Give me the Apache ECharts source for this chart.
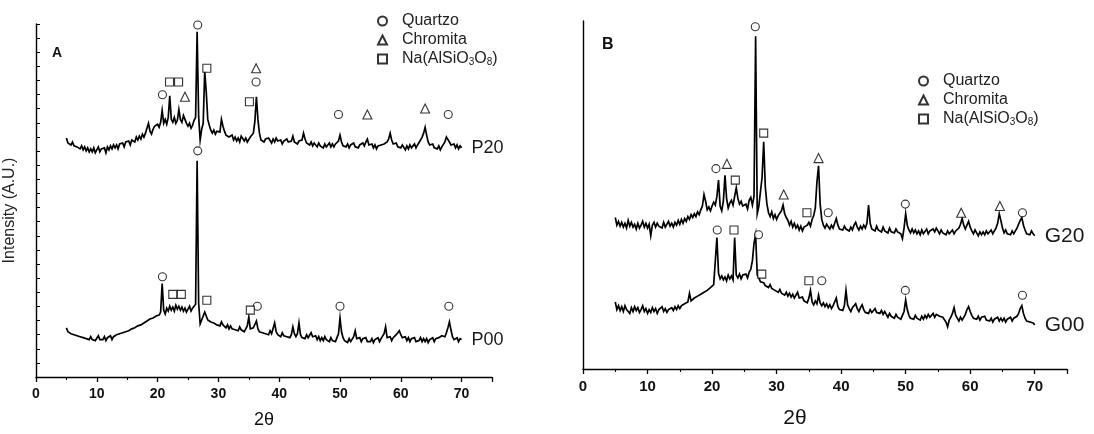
<!DOCTYPE html>
<html><head><meta charset="utf-8">
<script src="https://cdn.jsdelivr.net/npm/echarts@6/dist/echarts.min.js"></script>
<style>html,body{margin:0;padding:0;background:#fff}#c{width:1094px;height:434px}</style>
</head><body><div id="c"></div><script>
// 2θ measurement grid: first angle and step (degrees)
const twoThetaStart = 5;
const twoThetaStep = 0.25;

// Panel A traces (arbitrary intensity units, offset stacked)
const p20 = [
243,238,240,236, 239,235,237,234, 236,232,235,231, 234,230,233,229, 232,229,233,228,
231,234,229,232, 230,233,228,234, 231,235,232,236, 233,236,232,237, 235,238,234,239,
237,240,236,241, 243,239,244,241, 245,242,247,244, 248,246,258,250, 247,252,255,253,
257,254,259,271, 258,262,257,264, 286,262,259,264, 258,261,272,262, 259,266,262,258,
255,258,253,256, 261,264,351,265, 241,252,258,311, 290,262,256,251, 248,251,247,250,
252,249,262,255, 250,246,248,244, 243,246,241,244, 240,243,239,245, 246,240,243,239,
241,244,242,248, 260,285,262,248, 241,243,239,242, 240,243,241,238, 242,239,243,240,
238,241,237,240, 238,242,239,241, 240,245,239,238, 237,240,238,241, 248,242,238,240,
236,239,235,238, 237,234,238,235, 236,233,237,234, 235,238,234,237, 234,237,235,240,
246,239,235,237, 234,237,233,236, 235,238,234,236, 233,236,234,238, 235,239,242,236,
234,237,233,236, 232,235,233,236, 234,237,235,239, 242,248,241,237, 235,238,234,236,
233,236,234,231, 235,232,236,233, 234,237,233,236, 238,241,244,248, 254,246,239,236,
234,237,233,235, 232,235,231,234, 236,239,244,242, 239,236,234,237, 233,236,232,235,
233];
const p00 = [
50,46,48,44, 46,43,45,42, 44,41,43,40, 42,39,41,38, 41,38,40,37,
39,42,38,40, 38,41,37,40, 39,42,38,41, 40,43,41,44, 42,45,43,46,
44,47,45,49, 47,50,48,52, 50,53,51,55, 54,57,55,59, 57,60,58,62,
60,63,66,95, 68,64,70,67, 72,68,71,67, 73,69,72,68, 71,67,70,66,
69,72,67,70, 68,74,220,75, 54,58,60,66, 62,58,60,56, 58,55,57,53,
55,52,56,53, 54,50,53,49, 52,49,51,48, 50,47,51,48, 50,46,49,52,
61,49,47,50, 48,57,49,46, 48,45,47,44, 46,43,47,44, 46,55,46,43,
44,41,45,42, 44,41,43,40, 43,51,44,41, 44,55,43,40, 42,39,43,40,
42,45,41,39, 42,38,41,37, 40,37,41,38, 39,36,40,37, 39,36,40,44,
60,46,40,37, 38,35,39,36, 38,41,47,39, 37,40,36,39, 37,40,36,38,
36,39,35,38, 37,40,36,39, 38,44,51,40, 38,41,37,40, 39,43,45,47,
43,40,38,41, 37,40,36,39, 37,40,36,38, 37,40,36,39, 36,39,35,38,
37,40,36,39, 37,40,38,42, 44,41,45,50, 56,48,41,38, 37,40,36,39,
38];

// Panel B traces
const g20 = [
158,150,154,149, 153,148,152,147, 155,149,153,148, 151,146,152,147, 150,154,148,152,
147,151,139,150, 153,148,152,149, 151,147,153,148, 150,154,149,152, 148,153,150,155,
151,156,152,157, 154,159,156,161, 158,162,159,164, 161,166,170,182, 175,166,169,165,
170,174,171,180, 197,170,165,175, 202,178,168,173, 176,171,180,189, 178,172,175,170,
168,172,167,176, 179,171,180,347, 162,170,185,200, 237,190,172,163, 159,164,157,161,
156,160,158,165, 171,162,158,155, 150,154,148,152, 147,150,145,149, 144,148,146,150,
153,149,156,160, 168,195,212,172, 156,150,147,151, 149,146,150,147, 152,157,150,146,
148,145,149,146, 147,144,148,145, 150,153,148,145, 149,146,150,147, 152,171,152,146,
148,144,149,145, 147,143,148,144, 146,142,147,143, 145,142,146,143, 145,141,136,147,
162,150,145,142, 146,142,145,141, 144,140,145,141, 143,146,141,144, 142,146,143,147,
144,141,145,142, 143,140,144,141, 142,145,141,144, 143,147,151,157, 150,146,150,154,
148,144,141,145, 142,139,143,140, 143,140,144,141, 142,145,141,144, 147,152,162,155,
147,142,145,141, 143,140,144,141, 144,147,151,155, 158,150,145,141, 143,140,144,141,
139];
const g00 = [
70,62,66,61, 65,60,66,62, 63,58,64,60, 65,61,64,59, 62,66,60,63,
58,62,59,64, 60,63,58,62, 61,65,60,63, 59,62,60,64, 61,65,62,66,
63,66,64,68, 66,70,79,71, 70,74,72,76, 74,78,76,80, 78,82,80,85,
84,88,90,137, 100,94,97,93, 96,92,98,94, 97,93,137,98, 95,99,94,98,
96,99,95,101, 104,113,131,140, 98,95,91,93, 90,87,89,85, 88,84,86,82,
84,80,83,79, 81,77,80,76, 79,75,78,74, 77,80,74,72, 75,71,73,69,
74,82,70,67, 71,68,77,69, 66,69,65,68, 64,67,63,66, 65,74,65,62,
64,61,66,82, 67,63,60,64, 62,68,63,60, 64,67,62,59, 61,58,62,59,
60,63,59,61, 58,61,57,60, 57,54,58,55, 56,53,57,54, 55,52,56,60,
72,62,56,53, 55,52,56,53, 54,51,55,52, 56,53,57,54, 55,58,54,57,
58,55,57,54, 52,49,44,51, 54,58,64,56, 53,50,54,51, 53,57,62,65,
60,56,53,55, 52,55,51,54, 52,55,51,53, 50,53,49,52, 51,54,50,53,
50,53,49,52, 51,54,50,53, 52,55,58,63, 66,58,53,50, 52,49,51,48,
46];

// Phase markers [2θ, height]
const quartzoA  = [[20.8,287],[26.6,358],[36.2,300],[49.75,267],[67.8,267],[26.6,230],[20.8,102],[36.4,72],[50.0,72],[67.9,72]];
const chromitaA = [[24.5,285],[36.2,314],[54.5,267],[64.0,273]];
const albitaA   = [[21.96,300],[23.45,300],[28.1,314],[35.1,280],[22.5,84],[23.9,84],[28.1,78],[35.25,68]];
const quartzoB  = [[26.7,357],[20.6,209],[38.0,163],[49.95,172],[68.1,163],[20.8,145],[27.2,140],[37.0,92],[49.95,82],[68.1,77]];
const chromitaB = [[22.3,214],[31.1,182],[36.5,220],[58.6,163],[64.6,170]];
const albitaB   = [[28.0,246],[23.6,197],[34.7,163],[23.4,145],[27.7,99],[35.0,92]];

const phaseNames = ['Quartzo','Chromita','Na(AlSiO3O8)'];
const traceNames = ['P20','P00','G20','G00'];
const xTickLabels = [0,10,20,30,40,50,60,70];

const FONT = '"Liberation Sans", Arial, sans-serif';
const toXY = arr => arr.map((v,i) => [twoThetaStart + i*twoThetaStep, v]);

function trace(name, data, idx, fs, fw) {
  return {
    name, type:'line', xAxisIndex:idx, yAxisIndex:idx, data: toXY(data),
    showSymbol:false, symbol:'none', sampling:null, silent:true,
    lineStyle:{color:'#000', width:1.7, join:'miter'}, z:2,
    endLabel:{show:true, formatter:name, distance:10, fontFamily:FONT, fontSize:fs, fontWeight:fw, color:'#1a1a1a'}
  };
}
function marks(name, data, idx, sym) {
  return {
    name, type:'scatter', xAxisIndex:idx, yAxisIndex:idx, data, symbol:sym,
    symbolSize: sym==='triangle'?9:8, z:5, silent:true,
    itemStyle:{color:'#fff', borderColor:'#000', borderWidth:1.1}
  };
}
function xAxis(idx, fs, nameGap, nameFs, pad) {
  return {
    gridIndex:idx, type:'value', min:0, max:75, interval:10,
    axisLine:{show:true, lineStyle:{color:'#000', width:1.4}},
    axisTick:{show:true, length:5, lineStyle:{color:'#000', width:1.3}},
    minorTick:{show:true, splitNumber:2, length:3, lineStyle:{color:'#000', width:1.1}},
    splitLine:{show:false},
    axisLabel:{fontFamily:FONT, fontSize:fs, fontWeight:'bold', color:'#111', margin:10, showMaxLabel:false,
      formatter: v => xTickLabels.includes(v) ? String(v) : ''},
    name:'2θ', nameLocation:'middle', nameGap, nameTextStyle:{fontFamily:FONT, fontSize:nameFs, color:'#111', padding:pad}
  };
}
const legendRich = {s:{fontSize:10, fontFamily:FONT, color:'#222', verticalAlign:'bottom', padding:[7,0,0,0]}};
function legend(left, top) {
  return {
    data: phaseNames, orient:'vertical', left, top, itemGap:3, itemWidth:9, itemHeight:9,
    selectedMode:false,
    textStyle:{fontFamily:FONT, fontSize:16, color:'#222', padding:[0,0,0,10], rich:legendRich},
    formatter: n => n === 'Na(AlSiO3O8)' ? 'Na(AlSiO{s|3}O{s|8})' : n
  };
}

const chart = echarts.init(document.getElementById('c'), null, {renderer:'canvas'});
chart.setOption({
  animation:false,
  backgroundColor:'#fff',
  grid:[
    {left:36, top:24, width:456, height:359},
    {left:583, top:21, width:484, height:363}
  ],
  xAxis:[ xAxis(0, 14, 34, 18, [0,0,0,0]), xAxis(1, 15, 39, 21, [0,60,0,0]) ],
  yAxis:[
    {gridIndex:0, type:'value', min:0, max:359, interval:359/25,
     axisLine:{show:true, lineStyle:{color:'#000', width:1.4}},
     axisTick:{show:true, inside:true, length:4, lineStyle:{color:'#000'}},
     axisLabel:{show:false}, splitLine:{show:false},
     name:'Intensity (A.U.)', nameLocation:'middle', nameGap:18,
     nameTextStyle:{fontFamily:FONT, fontSize:16, color:'#222', padding:[0,0,0,-20]}},
    {gridIndex:1, type:'value', min:0, max:363,
     axisLine:{show:true, lineStyle:{color:'#000', width:1.4}},
     axisTick:{show:false}, axisLabel:{show:false}, splitLine:{show:false}}
  ],
  legend:[ legend(372, 8), legend(913, 68) ],
  graphic:[
    {type:'text', left:52, top:46, style:{text:'A', font:'bold 14px '+FONT, fill:'#111'}},
    {type:'text', left:602, top:37, style:{text:'B', font:'bold 16px '+FONT, fill:'#111'}}
  ],
  series:[
    trace(traceNames[0], p20, 0, 18, 'normal'),
    trace(traceNames[1], p00, 0, 18, 'normal'),
    marks(phaseNames[0], quartzoA, 0, 'circle'),
    marks(phaseNames[1], chromitaA, 0, 'triangle'),
    marks(phaseNames[2], albitaA, 0, 'rect'),
    trace(traceNames[2], g20, 1, 21, 'normal'),
    trace(traceNames[3], g00, 1, 21, 'normal'),
    marks(phaseNames[0], quartzoB, 1, 'circle'),
    marks(phaseNames[1], chromitaB, 1, 'triangle'),
    marks(phaseNames[2], albitaB, 1, 'rect')
  ]
});
</script></body></html>
